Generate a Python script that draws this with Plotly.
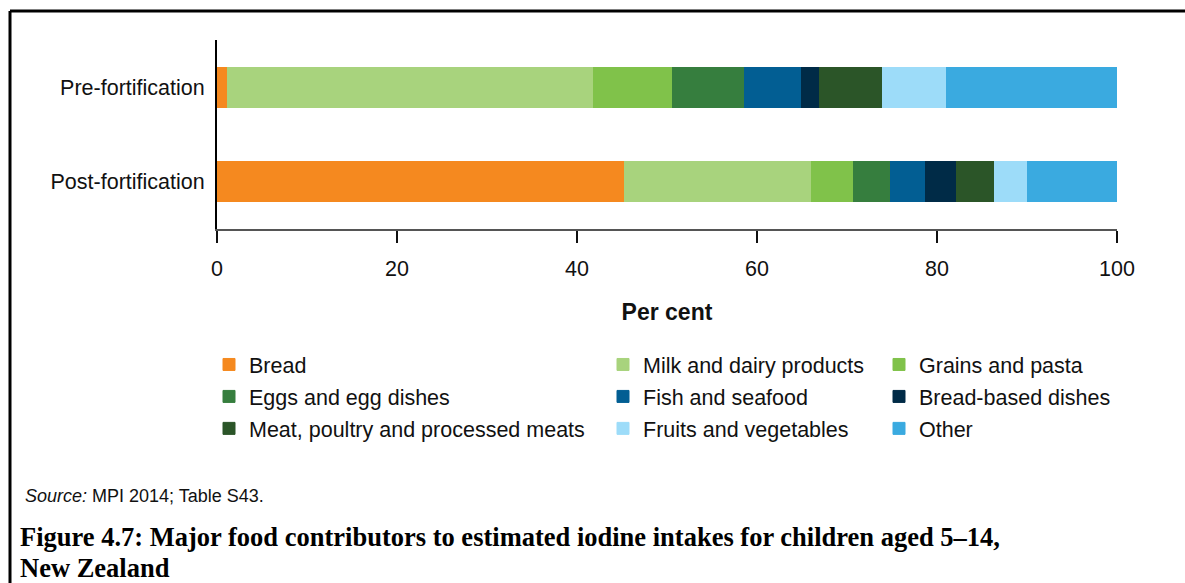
import plotly.graph_objects as go

# Iodine intake contributors, children 5-14, NZ (per cent of intake)
groups = ["Pre-fortification", "Post-fortification"]
foods = ["Bread", "Milk and dairy products", "Grains and pasta",
         "Eggs and egg dishes", "Fish and seafood", "Bread-based dishes",
         "Meat, poultry and processed meats", "Fruits and vegetables", "Other"]
pre = [1.2, 40.6, 8.8, 8.0, 6.3, 2.0, 7.0, 7.2, 18.9]
post = [45.3, 20.8, 4.6, 4.1, 3.9, 3.5, 4.2, 3.7, 9.9]
colours = ["#F5891F", "#A8D37D", "#80C24A", "#367E3E", "#025E93",
           "#002B47", "#2B5528", "#9DDCF9", "#3AAAE0"]
x_ticks = [0, 20, 40, 60, 80, 100]

W, H = 1185, 583
L, R, T, B = 217, 68, 40, 354
pw, ph = W - L - R, H - T - B


def px(x):
    return (x - L) / pw


def py(y):
    return (H - B - y) / ph


fig = go.Figure()
legend_ids = ["legend", "legend2", "legend3"]
for i, food in enumerate(foods):
    fig.add_trace(go.Bar(
        y=groups, x=[pre[i], post[i]], name=food, orientation="h",
        marker=dict(color=colours[i], line=dict(color=colours[i], width=1)),
        legend=legend_ids[i % 3], legendgroup=food,
    ))

leg_font = dict(family="Liberation Sans, Arial", size=21.5, color="#111")
leg_y = py(344)
legend_common = dict(font=leg_font, tracegroupgap=1, yanchor="top", y=leg_y,
                     xanchor="left", bgcolor="rgba(0,0,0,0)", orientation="v")

title_font = dict(family="Liberation Serif, serif", size=26.5, color="#000")

fig.update_layout(
    width=W, height=H,
    margin=dict(l=L, r=R, t=T, b=B),
    barmode="stack", bargap=0.58,
    plot_bgcolor="white", paper_bgcolor="white",
    font=dict(family="Liberation Sans, Arial", color="#111"),
    legend=dict(x=px(209), **legend_common),
    legend2=dict(x=px(603), **legend_common),
    legend3=dict(x=px(879), **legend_common),
    xaxis=dict(range=[0, 100], tickvals=x_ticks, showgrid=False, zeroline=False,
               showline=True, linecolor="#555", linewidth=1.5,
               ticks="outside", ticklen=12, tickwidth=1.5, tickcolor="#111",
               tickfont=dict(size=21.5), ticklabelstandoff=7, fixedrange=True,
               title=dict(text="<b>Per cent</b>", font=dict(size=23), standoff=24)),
    yaxis=dict(categoryorder="array", categoryarray=groups[::-1],
               showgrid=False, zeroline=False, showline=True,
               linecolor="#000", linewidth=2, ticks="", ticklabelstandoff=6,
               tickfont=dict(size=21.5)),
    annotations=[
        dict(text="<i>Source:</i> MPI 2014; Table S43.", xref="paper", yref="paper",
             x=px(23), y=py(496), xanchor="left", yanchor="middle", showarrow=False,
             font=dict(size=18)),
        dict(text="<b>Figure 4.7: Major food contributors to estimated iodine intakes for children aged 5\u201314,</b>",
             xref="paper", yref="paper", x=px(18), y=py(537), xanchor="left",
             yanchor="middle", showarrow=False, font=title_font),
        dict(text="<b>New Zealand</b>",
             xref="paper", yref="paper", x=px(18), y=py(567.5), xanchor="left",
             yanchor="middle", showarrow=False, font=title_font),
    ],
    shapes=[
        dict(type="line", xref="paper", yref="paper", x0=px(10), x1=px(1190),
             y0=py(11), y1=py(11), line=dict(color="#000", width=3)),
        dict(type="line", xref="paper", yref="paper", x0=px(10), x1=px(10),
             y0=py(11), y1=py(590), line=dict(color="#000", width=3)),
    ],
)

fig.write_html("out.html", config={"displayModeBar": False},
               post_script="document.body.style.margin='0';")
